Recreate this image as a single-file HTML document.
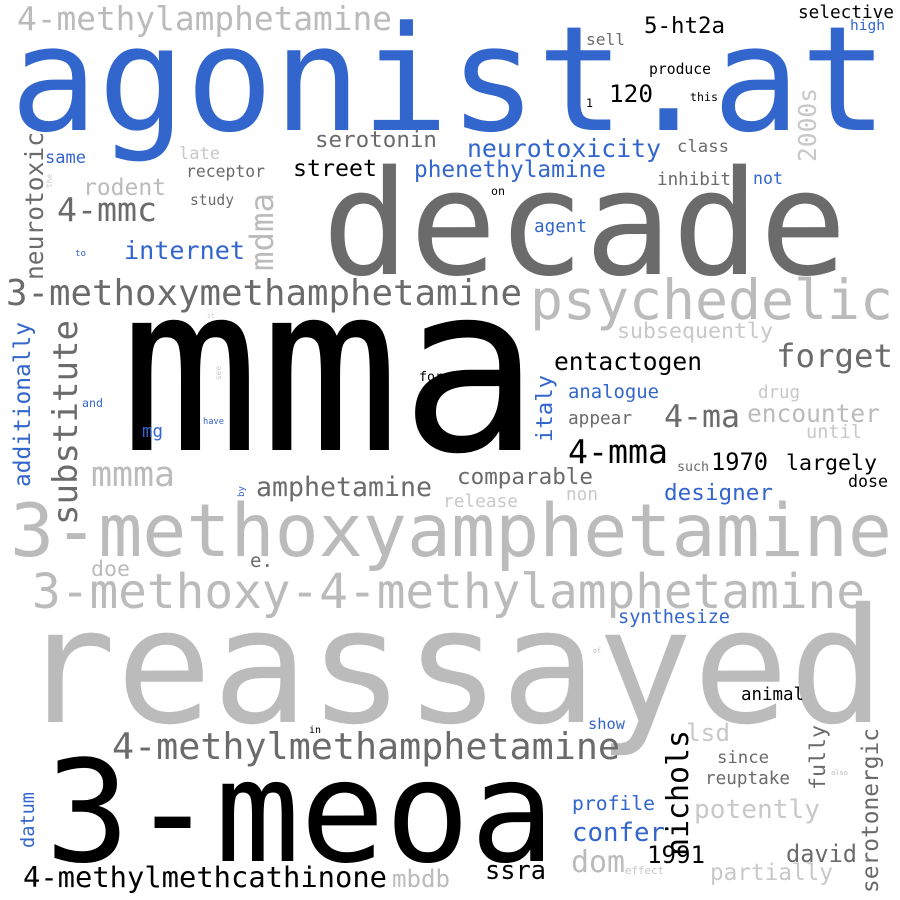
<!DOCTYPE html>
<html><head><meta charset="utf-8"><style>
html,body{margin:0;padding:0;background:#fff;}
svg{display:block;}
text{font-family:"DejaVu Sans Mono","Liberation Mono",monospace;}
</style></head><body>
<svg id="cloud" width="900" height="900" viewBox="0 0 900 900" xmlns="http://www.w3.org/2000/svg">
<rect width="900" height="900" fill="#fff"/>
</svg>
<script>
const B="#3366cc",D="#6b6b6b",L="#bbbbbb",K="#000000",C="#c8c8c8";
// word, x, baseline y, width, color, rotated
const words=[
["4-methylamphetamine",17,30,375,L,0],
["agonist.at",10,130,878,B,0],
["decade",322,274,525,D,0],
["mma",120,450,420,K,0],
["3-methoxyamphetamine",10,556,882,L,0],
["3-methoxy-4-methylamphetamine",32,608,833,L,0],
["reassayed",20,722,865,L,0],
["3-meoa",45,861,510,K,0],
["4-methylmethamphetamine",112,759,508,D,0],
["4-methylmethcathinone",23,887,364,K,0],
["psychedelic",530,319,363,L,0],
["3-methoxymethamphetamine",6,305,516,D,0],
["serotonin",315,147,122,D,0],
["street",293,176,84,K,0],
["phenethylamine",414,177,192,B,0],
["neurotoxicity",467,157,194,B,0],
["same",45,163,41,B,0],
["late",179,159,41,C,0],
["receptor",186,177,79,D,0],
["rodent",83,195,83,L,0],
["4-mmc",57,221,100,D,0],
["study",190,205,44,D,0],
["internet",124,259,121,B,0],
["to",75,256,11,B,0],
["it",207,318,8,C,0],
["for",419,381,24,K,0],
["and",82,407,21,B,0],
["have",203,424,21,B,0],
["mg",142,437,21,B,0],
["5-ht2a",644,33,81,K,0],
["selective",798,18,96,K,0],
["high",850,30,35,B,0],
["sell",586,45,39,D,0],
["produce",649,74,62,K,0],
["120",609,102,44,K,0],
["1",586,107,7,K,0],
["this",690,101,28,K,0],
["class",677,152,52,D,0],
["inhibit",657,185,74,D,0],
["not",753,184,30,B,0],
["on",491,195,14,K,0],
["agent",534,232,53,B,0],
["subsequently",617,338,156,C,0],
["forget",776,367,117,D,0],
["entactogen",554,370,148,K,0],
["analogue",568,398,91,B,0],
["drug",758,398,42,C,0],
["appear",568,424,64,D,0],
["4-ma",664,427,76,D,0],
["encounter",747,422,133,L,0],
["until",806,438,56,C,0],
["4-mma",568,463,100,K,0],
["such",677,471,32,D,0],
["1970",711,470,57,K,0],
["largely",786,470,91,K,0],
["dose",848,487,40,K,0],
["comparable",457,484,136,D,0],
["designer",664,500,109,B,0],
["non",566,500,32,C,0],
["release",443,507,75,C,0],
["mmma",91,486,84,L,0],
["amphetamine",256,496,176,D,0],
["e.",250,567,23,D,0],
["doe",91,576,39,L,0],
["synthesize",618,623,112,B,0],
["of",593,653,8,L,0],
["animal",741,700,63,K,0],
["in",309,733,12,K,0],
["show",588,729,37,B,0],
["lsd",686,741,44,C,0],
["since",717,763,52,D,0],
["reuptake",705,784,85,D,0],
["also",831,775,17,L,0],
["profile",572,810,83,B,0],
["potently",694,818,126,C,0],
["confer",572,841,93,B,0],
["1991",647,863,58,K,0],
["dom",571,872,54,L,0],
["effect",625,874,39,C,0],
["ssra",485,879,61,K,0],
["mbdb",392,887,58,L,0],
["david",786,862,71,D,0],
["partially",710,880,123,C,0],
["the",52,188,14,C,1],
["see",221,380,14,C,1],
["by",244,497,11,B,1],
["neurotoxic",43,280,148,D,1],
["additionally",30,487,165,B,1],
["substitute",77,525,205,D,1],
["mdma",273,271,78,L,1],
["2000s",816,162,74,C,1],
["italy",552,442,67,B,1],
["datum",34,848,56,B,1],
["nichols",688,856,126,K,1],
["fully",825,790,65,D,1],
["serotonergic",878,893,165,D,1]
];
const svg=document.getElementById('cloud');
const NS="http://www.w3.org/2000/svg";
words.forEach(w=>{
  const [txt,x,y,wd,col,rot]=w;
  const t=document.createElementNS(NS,'text');
  const fs=wd/(0.602*txt.length);
  t.setAttribute('font-size',fs.toFixed(2));
  t.setAttribute('fill',col);
  t.setAttribute('textLength',wd);
  t.setAttribute('lengthAdjust','spacingAndGlyphs');
  if(rot){
    t.setAttribute('x',0);t.setAttribute('y',0);
    t.setAttribute('transform','translate('+x+','+y+') rotate(-90)');
  }else{
    t.setAttribute('x',x);t.setAttribute('y',y);
  }
  t.textContent=txt;
  
  
  svg.appendChild(t);
});
</script>
</body></html>
